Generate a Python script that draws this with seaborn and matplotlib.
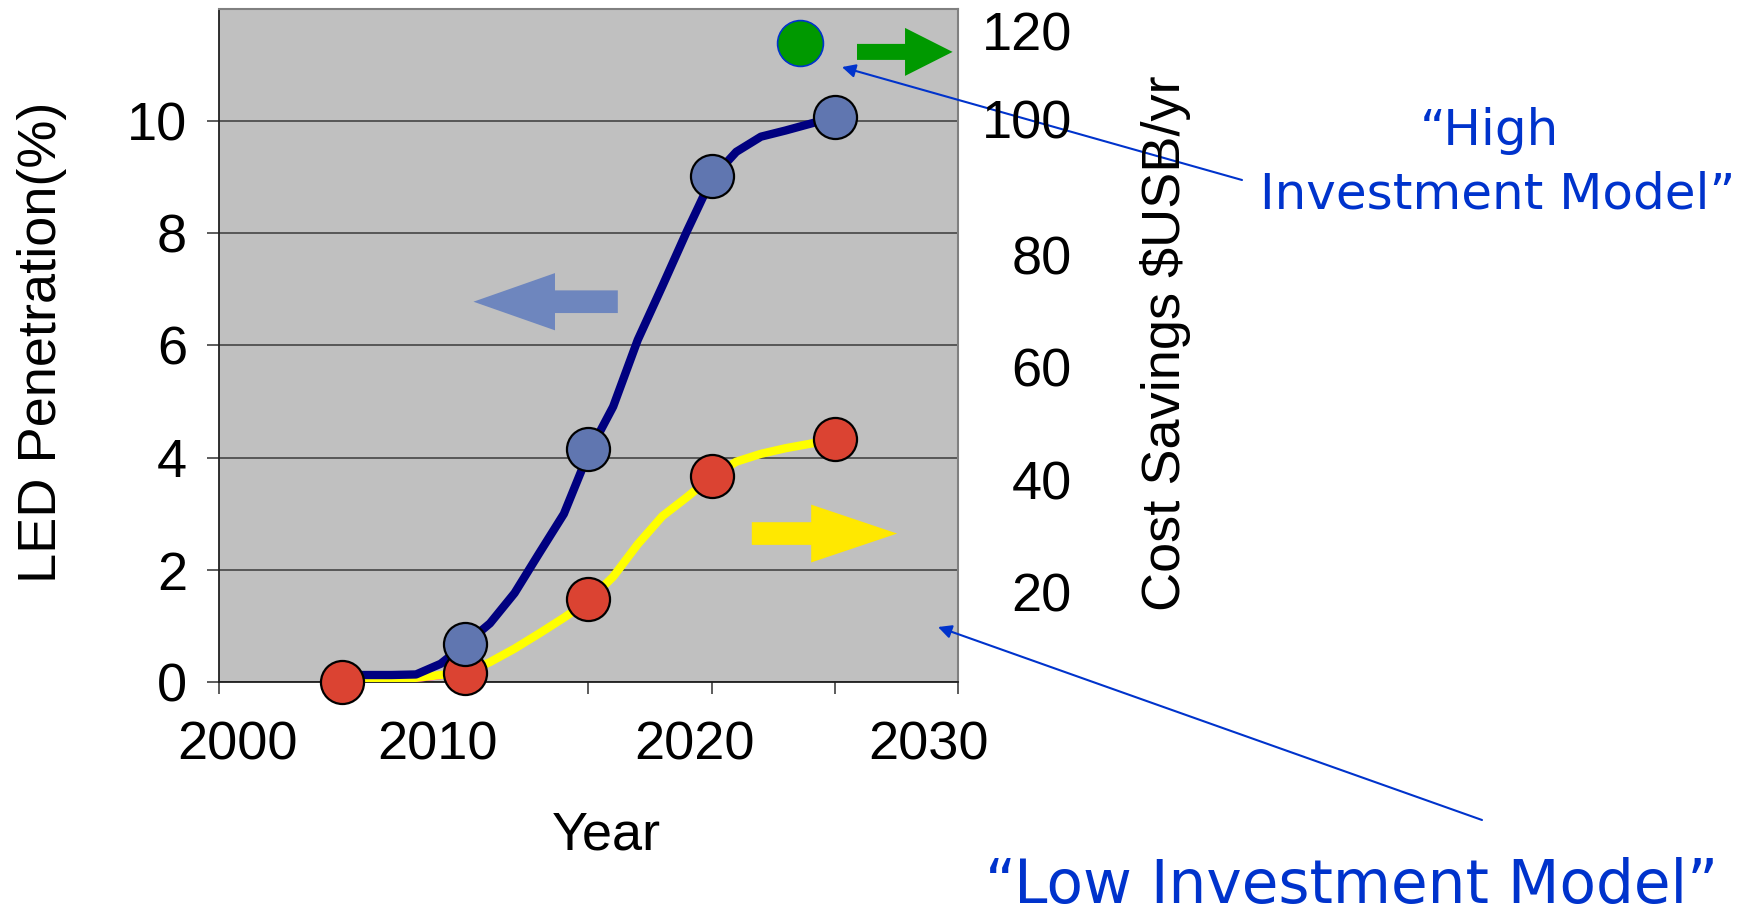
import matplotlib
matplotlib.use("Agg")
import matplotlib.pyplot as plt
import matplotlib.transforms as mtransforms
import seaborn as sns
import pandas as pd

# ---- data -------------------------------------------------------------
years = list(range(2005, 2026))
high_penetration = [0.13, 0.13, 0.13, 0.14, 0.33, 0.68, 1.05, 1.59, 2.30, 3.00,
                    4.08, 4.91, 6.10, 7.06, 8.04, 8.97, 9.45, 9.72, 9.83, 9.95, 10.07]
low_penetration = [0.04, 0.05, 0.06, 0.08, 0.13, 0.16, 0.36, 0.60, 0.87, 1.15,
                   1.45, 1.88, 2.46, 2.96, 3.30, 3.66, 3.93, 4.07, 4.17, 4.25, 4.33]
early_years = list(range(2005, 2011))
early_penetration = [0.0, 0.0, 0.01, 0.03, 0.08, 0.14]

high_marker_years = [2010, 2015, 2020, 2025]
high_marker_values = [0.68, 4.15, 9.02, 10.07]
low_marker_years = [2005, 2010, 2015, 2020, 2025]
low_marker_values = [0.0, 0.16, 1.48, 3.67, 4.33]

savings_year = [2023.6]
savings_value = [118.0]

year_labels = ["2000", "2010", "2020", "2030"]
left_ticks = [0, 2, 4, 6, 8, 10]
right_ticks = [20, 40, 60, 80, 100, 120]

# ---- style ------------------------------------------------------------
sns.set_theme(style="white")
plt.rcParams["font.family"] = ["Liberation Sans", "DejaVu Sans"]
FS = 39
BLUE_TXT = "#0033CC"

fig = plt.figure(figsize=(17.52, 9.14), dpi=100)
ax = fig.add_axes([0.1250, 0.2535, 0.4218, 0.7370])
ax.set_facecolor("#C0C0C0")
ax.set_xlim(2000, 2030)
ax.set_ylim(0, 12)

# gridlines
ax.set_yticks(left_ticks)
ax.yaxis.grid(True, color="#3a3a3a", linewidth=1.1)
ax.xaxis.grid(False)
ax.set_axisbelow(True)

for side in ("top", "right"):
    ax.spines[side].set_color("#808080")
    ax.spines[side].set_linewidth(1.5)
for side in ("left", "bottom"):
    ax.spines[side].set_color("#202020")
    ax.spines[side].set_linewidth(1.3)

# lines
df_early = pd.DataFrame({"year": early_years, "pen": early_penetration})
df_low = pd.DataFrame({"year": years, "pen": low_penetration})
df_high = pd.DataFrame({"year": years, "pen": high_penetration})
sns.lineplot(data=df_early, x="year", y="pen", ax=ax, color="#FF00FF",
             linewidth=2.2, zorder=3)
sns.lineplot(data=df_low, x="year", y="pen", ax=ax, color="#FFFF00",
             linewidth=6.0, zorder=3)
sns.lineplot(data=df_high, x="year", y="pen", ax=ax, color="#000080",
             linewidth=6.0, zorder=3)

# markers
sns.scatterplot(x=low_marker_years, y=low_marker_values, ax=ax, s=31 ** 2,
                color="#DB4332", edgecolor="black", linewidth=1.6, zorder=4)
sns.scatterplot(x=high_marker_years, y=high_marker_values, ax=ax, s=31 ** 2,
                color="#6076B0", edgecolor="black", linewidth=1.6, zorder=5)
for coll in ax.collections:
    coll.set_clip_on(False)

# direction arrows showing which axis each curve is read on
ax.arrow(2016.19, 6.78, -5.86, 0, width=0.404, head_width=1.02,
         head_length=3.31, length_includes_head=True, color="#6E86BE",
         lw=0, zorder=2.6)
ax.arrow(2021.63, 2.65, 5.90, 0, width=0.404, head_width=1.03,
         head_length=3.49, length_includes_head=True, color="#FFE800",
         lw=0, zorder=2.6)
ax.arrow(2025.90, 11.23, 3.88, 0, width=0.285, head_width=0.855,
         head_length=1.93, length_includes_head=True, color="#009900",
         lw=0, zorder=2.6)

# x axis ticks and year labels
ax.set_xticks(range(2000, 2031, 5))
ax.set_xticklabels([])
ax.tick_params(axis="x", direction="out", length=8.6, width=1.1,
               color="#303030", bottom=True)
label_x = [2000.74, 2008.86, 2019.29, 2028.79]
xtrans = mtransforms.blended_transform_factory(ax.transData, ax.transAxes)
for lx, lab in zip(label_x, year_labels):
    ax.text(lx, -0.0935, lab, transform=xtrans, ha="center", va="center",
            fontsize=FS, color="black")

ax.set_yticklabels([str(t) for t in left_ticks])
ax.tick_params(axis="y", direction="out", length=8.6, width=1.1,
               color="#303030", left=True, pad=14.4, labelsize=FS,
               labelcolor="black")

ax.set_xlabel("Year", fontsize=FS, color="black", va="center")
ax.xaxis.set_label_coords(0.5246, -0.2277)
ax.set_ylabel("LED Penetration(%)", fontsize=FS, color="black", va="center")
ax.yaxis.set_label_coords(-0.2395, 0.505)

# secondary axis: cost savings
ax2 = ax.twinx()
ax2.set_ylim(3.8, 124.05)
ax2.set_yticks(right_ticks)
ax2.set_yticklabels([str(t) for t in right_ticks])
ax2.tick_params(axis="y", length=0, pad=82, labelsize=FS, labelcolor="black")
right_labels = ax2.get_yticklabels()
plt.setp(right_labels, ha="right")
# the "100" label sits a little higher than the even spacing
lift = mtransforms.ScaledTranslation(0, 17.5 / 72, fig.dpi_scale_trans)
right_labels[right_ticks.index(100)].set_transform(
    right_labels[right_ticks.index(100)].get_transform() + lift)
for side in ax2.spines.values():
    side.set_visible(False)
ax2.grid(False)
sns.scatterplot(x=savings_year, y=savings_value, ax=ax2, s=33 ** 2,
                color="#009900", edgecolor=BLUE_TXT, linewidth=1.2, zorder=5)
ax2.set_ylabel("Cost Savings $USB/yr", fontsize=FS, color="black", va="center")
ax2.yaxis.set_label_coords(1.2806, 0.503)

# callouts
arrow_kw = dict(arrowstyle="-|>", color=BLUE_TXT, lw=1.5, mutation_scale=20,
                shrinkA=0, shrinkB=0)
ax.annotate("", xy=(2025.29, 10.96), xycoords="data",
            xytext=(1242, 914 - 180), textcoords="figure pixels",
            arrowprops=arrow_kw, annotation_clip=False, zorder=6)
ax.annotate("", xy=(2029.19, 0.985), xycoords="data",
            xytext=(1482, 914 - 820), textcoords="figure pixels",
            arrowprops=arrow_kw, annotation_clip=False, zorder=6)

note_font = ["DejaVu Sans"]
fig.text(0.8499, 0.8414, "\u201cHigh", ha="center", va="baseline",
         fontsize=36, color=BLUE_TXT, family=note_font)
fig.text(0.8547, 0.7721, "Investment Model\u201d", ha="center", va="baseline",
         fontsize=36, color=BLUE_TXT, family=note_font)
fig.text(0.7714, 0.0115, "\u201cLow Investment Model\u201d", ha="center",
         va="baseline", fontsize=43, color=BLUE_TXT, family=note_font)

fig.savefig("out.png", dpi=100, facecolor="white")
